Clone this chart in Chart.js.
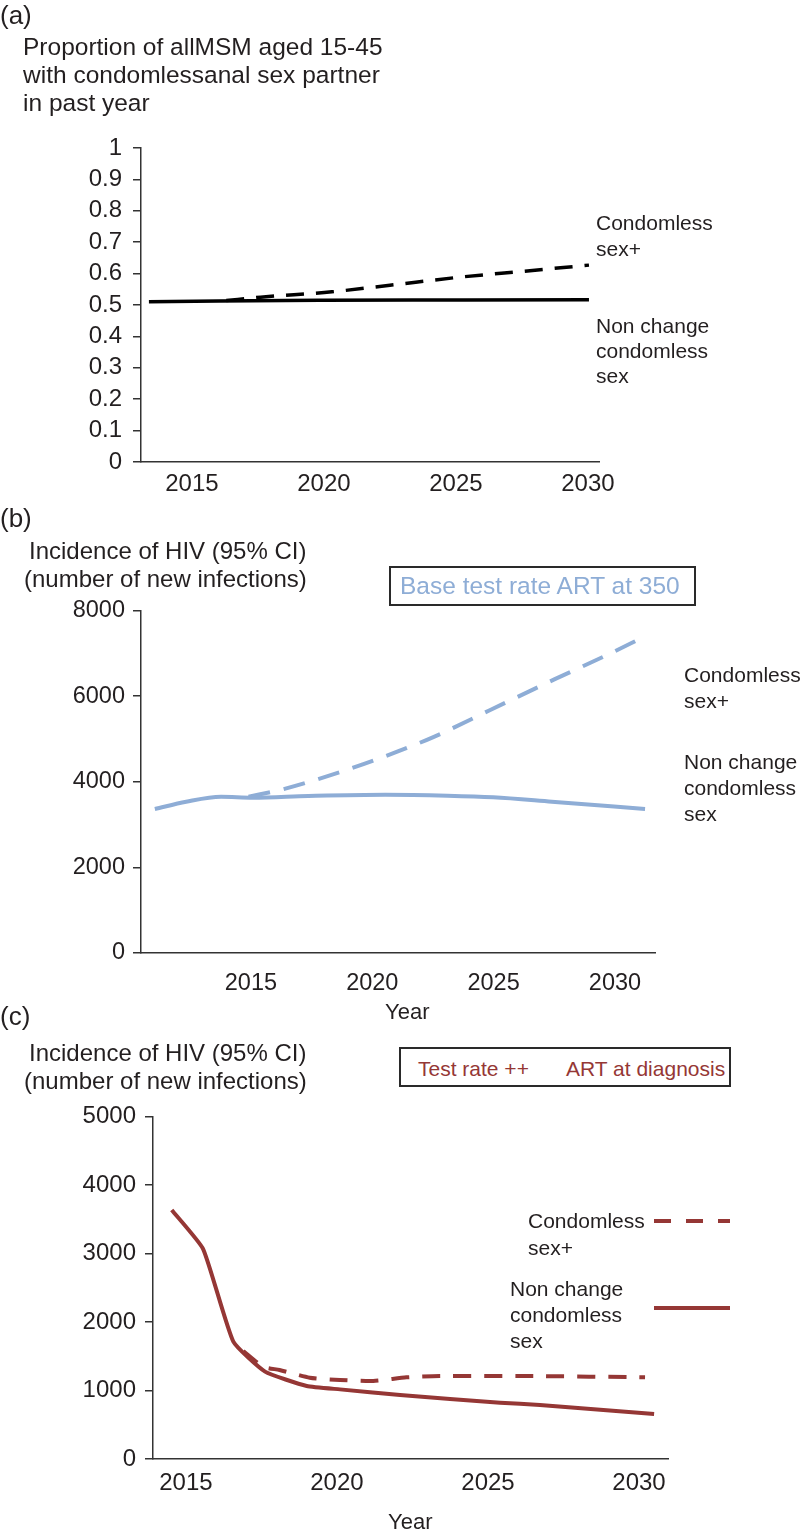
<!DOCTYPE html>
<html>
<head>
<meta charset="utf-8">
<script src="https://cdn.jsdelivr.net/npm/chart.js@4.4.1/dist/chart.umd.min.js"></script>
<style>
body { margin: 0; background: #fff; }
#page { position: relative; width: 800px; height: 1530px; font-family: "Liberation Sans", Arial, sans-serif; color: #231f20; }
canvas { position: absolute; left: 0; }
.t { position: absolute; white-space: pre; line-height: 1; }
.box { position: absolute; border: 2px solid #2a2a2a; box-sizing: border-box; background: #fff; }
</style>
</head>
<body>
<div id="page">
  <canvas id="ca" width="800" height="510" style="top:0"></canvas>
  <canvas id="cb" width="800" height="520" style="top:500px"></canvas>
  <canvas id="cc" width="800" height="510" style="top:1020px"></canvas>
</div>
<script>
// x ticks shown on every panel
const yearTicks = [2015, 2020, 2025, 2030];

// (a) proportion with condomless anal sex partner
const aSolidYears = [2013.37, 2016, 2020, 2025, 2030.04];
const aSolid = [0.510, 0.513, 0.515, 0.516, 0.517];
const aDashYears = [2016.3, 2017.6, 2020.3, 2022.5, 2025.3, 2027.5, 2030.04];
const aDash = [0.514, 0.525, 0.542, 0.563, 0.590, 0.607, 0.627];

// (b) incidence, base test rate ART at 350
const bSolidYears = [2011.04, 2012.33, 2013.77, 2015.07, 2017.37, 2020.53, 2023.1, 2024.98, 2027.4, 2031.24];
const bSolid = [3364, 3534, 3650, 3627, 3667, 3697, 3674, 3636, 3534, 3364];
const bDashYears = [2014.9, 2016.2, 2017.65, 2020.1, 2022.54, 2024.84, 2027.5, 2029.5, 2031.24];
const bDash = [3650, 3807, 4040, 4506, 5050, 5671, 6390, 6914, 7396];

// (c) incidence, test rate ++ ART at diagnosis
const cSolidYears = [2014.53, 2015.57, 2016.57, 2017.62, 2019.0, 2020.1, 2022.09, 2025.4, 2026.72, 2030.5];
const cSolid = [3637, 3067, 1714, 1276, 1066, 1017, 935, 823, 789, 657];
const cDashYears = [2016.9, 2017.55, 2018.1, 2019.1, 2020.1, 2021.2, 2022.3, 2023.4, 2026.5, 2030.2];
const cDash = [1575, 1349, 1300, 1188, 1154, 1140, 1193, 1212, 1212, 1193];

const FONT = '"Liberation Sans", Arial, sans-serif';
const AXIS = '#333333';

function pts(xs, ys) {
  return xs.map((x, i) => ({ x: x, y: ys[i] }));
}

function addText(str, x, yc, size, color) {
  const d = document.createElement('div');
  d.className = 't';
  d.textContent = str;
  d.style.left = x + 'px';
  d.style.top = (yc - size / 2) + 'px';
  d.style.fontSize = size + 'px';
  if (color) d.style.color = color;
  document.getElementById('page').appendChild(d);
  return d;
}

function panel(id, cfg) {
  return new Chart(document.getElementById(id), {
    type: 'line',
    data: { datasets: cfg.datasets },
    options: {
      responsive: false,
      animation: false,
      devicePixelRatio: 1,
      layout: { padding: { left: 0, top: cfg.top, right: cfg.right, bottom: 0 } },
      plugins: { legend: { display: false }, tooltip: { enabled: false } },
      elements: { point: { radius: 0 } },
      scales: {
        x: {
          type: 'linear',
          min: cfg.xmin,
          max: cfg.xmax,
          afterBuildTicks: s => { s.ticks = yearTicks.map(v => ({ value: v })); },
          afterFit: s => { s.height = cfg.xh; },
          grid: { display: false, drawTicks: false },
          border: { display: true, color: AXIS, width: 1.5 },
          ticks: { autoSkip: false, maxRotation: 0, padding: cfg.xpad, color: '#231f20', font: { family: FONT, size: cfg.tickSize }, callback: v => String(v) }
        },
        y: {
          min: cfg.ymin,
          max: cfg.ymax,
          afterFit: s => { s.width = cfg.yw; },
          grid: { display: true, drawOnChartArea: false, drawTicks: true, tickLength: 8, color: AXIS, lineWidth: 1.5 },
          border: { display: true, color: AXIS, width: 1.5 },
          ticks: { autoSkip: false, stepSize: cfg.step, padding: cfg.ypad, color: '#231f20', font: { family: FONT, size: cfg.tickSize }, callback: cfg.fmt }
        }
      }
    },
    plugins: cfg.plugins || []
  });
}

// panel (a)
panel('ca', {
  top: 148, right: 201, xh: 48, yw: 141, xmin: 2013.07, xmax: 2030.42,
  ymin: 0, ymax: 1, step: 0.1, xpad: 8, ypad: 11, tickSize: 24,
  fmt: v => String(Math.round(v * 10) / 10),
  datasets: [
    { data: pts(aSolidYears, aSolid), borderColor: '#000', borderWidth: 3.5, tension: 0.3, cubicInterpolationMode: 'monotone' },
    { data: pts(aDashYears, aDash), borderColor: '#000', borderWidth: 3.5, borderDash: [18, 12], tension: 0.3, cubicInterpolationMode: 'monotone' }
  ]
});

// panel (b)
const BLUE = '#8eadd6';
panel('cb', {
  top: 110.5, right: 145, xh: 67, yw: 141, xmin: 2010.47, xmax: 2031.65,
  ymin: 0, ymax: 8000, step: 2000, xpad: 16, ypad: 8, tickSize: 23.5,
  fmt: v => String(v),
  datasets: [
    { data: pts(bSolidYears, bSolid), borderColor: BLUE, borderWidth: 4, tension: 0.4, cubicInterpolationMode: 'monotone' },
    { data: pts(bDashYears, bDash), borderColor: BLUE, borderWidth: 4, borderDash: [22, 14], tension: 0.4, cubicInterpolationMode: 'monotone' }
  ]
});

// panel (c)
const RED = '#953735';
const legendLines = {
  id: 'legendLines',
  afterDraw(chart) {
    const ctx = chart.ctx;
    ctx.save();
    ctx.strokeStyle = RED;
    ctx.lineWidth = 4;
    ctx.setLineDash([17, 15]);
    ctx.beginPath(); ctx.moveTo(654, 201); ctx.lineTo(730, 201); ctx.stroke();
    ctx.setLineDash([]);
    ctx.beginPath(); ctx.moveTo(654, 288); ctx.lineTo(730, 288); ctx.stroke();
    ctx.restore();
  }
};
panel('cc', {
  top: 96.7, right: 132, xh: 71, yw: 153, xmin: 2013.91, xmax: 2030.96,
  ymin: 0, ymax: 5000, step: 1000, xpad: 10, ypad: 9, tickSize: 24,
  fmt: v => String(v),
  plugins: [legendLines],
  datasets: [
    { data: pts(cSolidYears, cSolid), borderColor: RED, borderWidth: 4, tension: 0.15 },
    { data: pts(cDashYears, cDash), borderColor: RED, borderWidth: 4, borderDash: [18, 13], tension: 0.2 }
  ]
});

// panel labels and titles
addText('(a)', 0, 15, 26);
addText('Proportion of allMSM aged 15-45', 23, 47, 24.5);
addText('with condomlessanal sex partner', 23, 75, 24.5);
addText('in past year', 23, 103, 24.5);
addText('Condomless', 596, 222, 21);
addText('sex+', 596, 248, 21);
addText('Non change', 596, 325, 21);
addText('condomless', 596, 350, 21);
addText('sex', 596, 375, 21);

addText('(b)', 0, 518, 26);
addText('Incidence of HIV (95% CI)', 29, 551, 24);
addText('(number of new infections)', 24, 579, 24);
const boxB = document.createElement('div');
boxB.className = 'box';
boxB.style.cssText = 'left:389px;top:566px;width:307px;height:40px;';
document.getElementById('page').appendChild(boxB);
addText('Base test rate ART at 350', 400, 586, 24.5, BLUE);
addText('Condomless', 684, 674, 21);
addText('sex+', 684, 700, 21);
addText('Non change', 684, 761, 21);
addText('condomless', 684, 787, 21);
addText('sex', 684, 813, 21);
addText('Year', 385, 1012, 22);

addText('(c)', 0, 1016, 26);
addText('Incidence of HIV (95% CI)', 29, 1053, 24);
addText('(number of new infections)', 24, 1081, 24);
const boxC = document.createElement('div');
boxC.className = 'box';
boxC.style.cssText = 'left:399px;top:1047px;width:332px;height:40px;';
document.getElementById('page').appendChild(boxC);
addText('Test rate ++', 418, 1068, 21, RED);
addText('ART at diagnosis', 566, 1068, 21, RED);
addText('Condomless', 528, 1220, 21);
addText('sex+', 528, 1247, 21);
addText('Non change', 510, 1288, 21);
addText('condomless', 510, 1314, 21);
addText('sex', 510, 1340, 21);
addText('Year', 388, 1522, 22);
</script>
</body>
</html>
